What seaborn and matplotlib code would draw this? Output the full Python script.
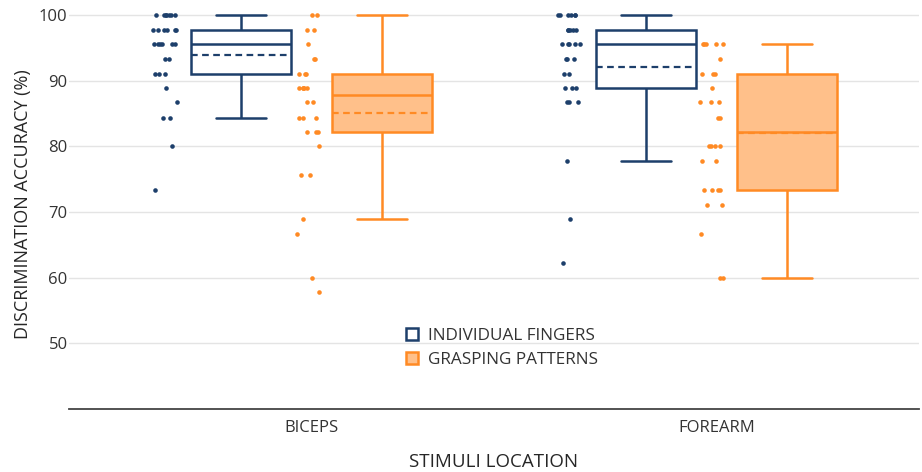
import numpy as np
import pandas as pd
import matplotlib
matplotlib.use("Agg")
import matplotlib.pyplot as plt
import seaborn as sns
from matplotlib.patches import Patch

locations = ["BICEPS", "FOREARM"]
stimuli = ["INDIVIDUAL FINGERS", "GRASPING PATTERNS"]

# accuracy per participant (%)
biceps_fingers = [73.3, 80, 84.4, 84.4, 86.7, 88.9, 91.1, 91.1, 91.1, 93.3, 93.3,
                  95.6, 95.6, 95.6, 95.6, 95.6, 95.6, 97.8, 97.8, 97.8, 97.8, 97.8, 97.8,
                  100, 100, 100, 100, 100, 100, 100]
biceps_grasping = [57.8, 60, 66.7, 68.9, 75.6, 75.6, 80, 82.2, 82.2, 82.2, 84.4, 84.4,
                   84.4, 86.7, 86.7, 88.9, 88.9, 88.9, 88.9, 88.9, 91.1, 91.1, 91.1,
                   93.3, 93.3, 95.6, 97.8, 97.8, 100, 100]
forearm_fingers = [62.2, 68.9, 77.8, 86.7, 86.7, 86.7, 88.9, 88.9, 88.9, 91.1, 91.1,
                   93.3, 93.3, 93.3, 95.6, 95.6, 95.6, 95.6, 95.6, 97.8, 97.8, 97.8,
                   97.8, 97.8, 100, 100, 100, 100, 100, 100]
forearm_grasping = [60, 60, 66.7, 71.1, 71.1, 73.3, 73.3, 73.3, 73.3, 77.8, 77.8, 80,
                    80, 80, 80, 84.4, 84.4, 86.7, 86.7, 86.7, 88.9, 91.1, 91.1, 91.1,
                    93.3, 95.6, 95.6, 95.6, 95.6, 95.6]

rows = []
for loc, stim, vals in [("BICEPS", stimuli[0], biceps_fingers),
                        ("BICEPS", stimuli[1], biceps_grasping),
                        ("FOREARM", stimuli[0], forearm_fingers),
                        ("FOREARM", stimuli[1], forearm_grasping)]:
    for v in vals:
        rows.append({"location": loc, "stimulus": stim, "accuracy": v})
df = pd.DataFrame(rows)

navy = "#1d3f6b"
orange = "#ff8a24"
fills = {stimuli[0]: "white", stimuli[1]: "#ffc08a"}
colors = {stimuli[0]: navy, stimuli[1]: orange}
box_shift = {stimuli[0]: -0.175, stimuli[1]: 0.175}
dot_shift = {stimuli[0]: -0.362, stimuli[1]: -0.01}

loc_idx = df["location"].map({l: i for i, l in enumerate(locations)})
df["box_x"] = loc_idx + df["stimulus"].map(box_shift)
df["dot_x"] = loc_idx + df["stimulus"].map(dot_shift)

sns.set_theme(style="white")
plt.rcParams["font.family"] = ["Open Sans", "DejaVu Sans"]
plt.rcParams["text.color"] = "#333333"

fig = plt.figure(figsize=(9.22, 4.72), dpi=100)
ax = fig.add_axes([69 / 922, 63 / 472, 850 / 922, 409 / 472])

np.random.seed(7)
for stim in stimuli:
    sub = df[df["stimulus"] == stim]
    c = colors[stim]
    sns.stripplot(data=sub, x="dot_x", y="accuracy", native_scale=True,
                  jitter=0.03, size=3.3, color=c, linewidth=0, ax=ax, zorder=3)
    sns.boxplot(data=sub, x="box_x", y="accuracy", native_scale=True,
                width=0.247, whis=1.5, showfliers=False,
                showmeans=True, meanline=True,
                boxprops=dict(facecolor=fills[stim], edgecolor=c, linewidth=1.8),
                medianprops=dict(color=c, linewidth=1.8),
                whiskerprops=dict(color=c, linewidth=1.8),
                capprops=dict(color=c, linewidth=1.8),
                meanprops=dict(color=c, linestyle=(0, (3, 2)), linewidth=1.6),
                ax=ax)

ax.set_xlim(-0.599, 1.5)
ax.set_ylim(40, 102.3)
ax.set_yticks([50, 60, 70, 80, 90, 100])
ax.set_xticks([0, 1])
ax.set_xticklabels(locations)
ax.yaxis.grid(True, color="#e4e4e4", linewidth=1)
ax.set_axisbelow(True)
for side in ["left", "right", "top"]:
    ax.spines[side].set_visible(False)
ax.spines["bottom"].set_color("#444444")
ax.spines["bottom"].set_linewidth(1.3)
ax.tick_params(axis="both", length=0, labelsize=12, colors="#333333")
ax.tick_params(axis="x", pad=8)
ax.tick_params(axis="y", pad=1)
ax.set_xlabel("STIMULI LOCATION", fontsize=13.5, labelpad=12)
ax.set_ylabel("DISCRIMINATION ACCURACY (%)", fontsize=13, labelpad=5)

handles = [Patch(facecolor=fills[s], edgecolor=colors[s], linewidth=1.8, label=s)
           for s in stimuli]
ax.legend(handles=handles, loc="upper left", bbox_to_anchor=(399 / 922, (472 - 321) / 472),
          bbox_transform=fig.transFigure, frameon=False, fontsize=12.3,
          handlelength=0.7, handleheight=0.7, handletextpad=0.6,
          labelspacing=0.5, borderaxespad=0)

fig.savefig("out.png", dpi=100)
